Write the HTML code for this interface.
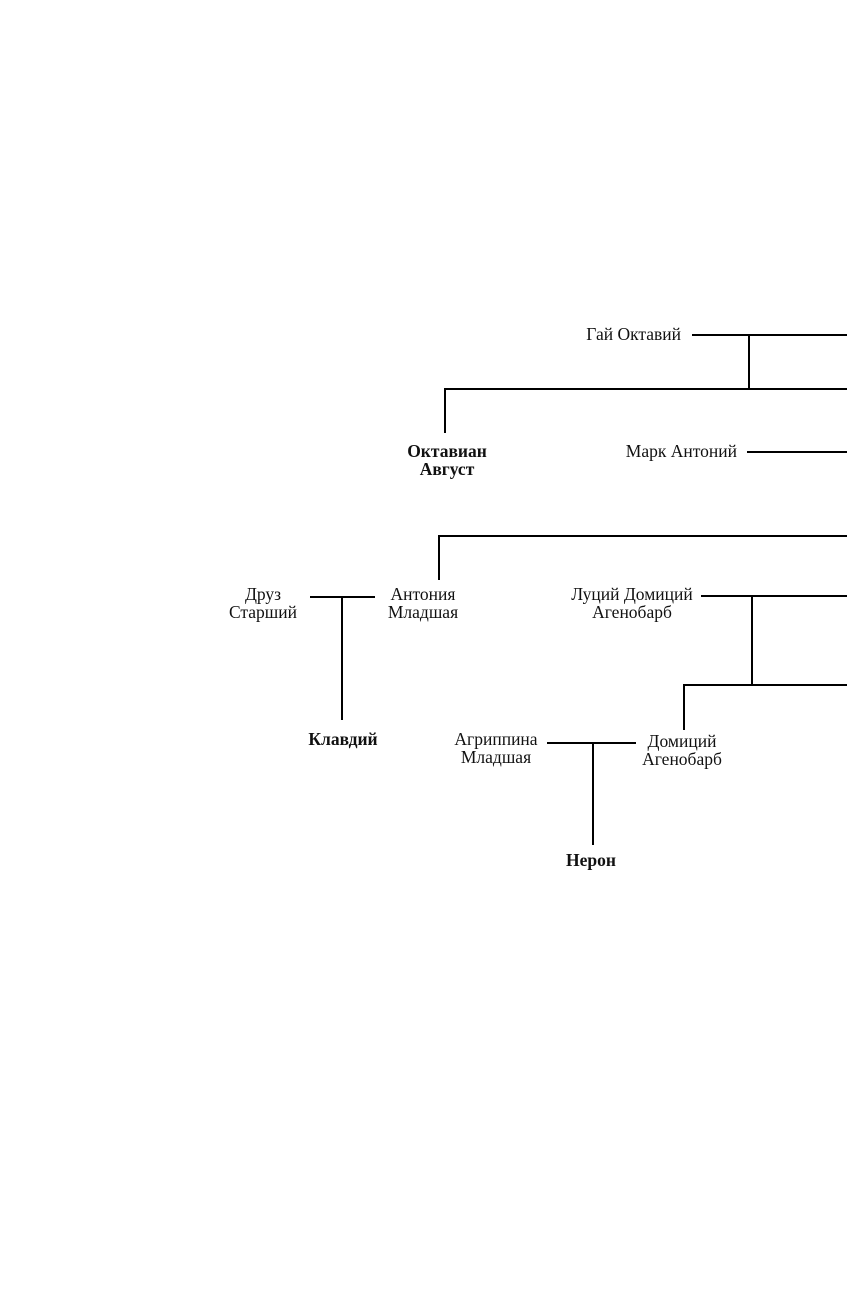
<!DOCTYPE html>
<html><head><meta charset="utf-8"><style>
html,body{margin:0;padding:0;background:#fff;}
svg{display:block;}
text{font-family:"Liberation Serif",serif;font-size:17.5px;fill:#111;}
.b{font-weight:bold;}
</style></head><body>
<svg width="862" height="1299" viewBox="0 0 862 1299">
<g stroke="#000" stroke-width="2" fill="none">
<path d="M692 335H847M749 335V389M444 389H847M445 389V433"/>
<path d="M747 452H847"/>
<path d="M438 536H847M439 536V580"/>
<path d="M310 597H375M342 597V720"/>
<path d="M701 596H847M752 596V685M683 685H847M684 685V730"/>
<path d="M547 743H636M593 743V845"/>
</g>
<text x="681" y="340" text-anchor="end">Гай Октавий</text>
<text class="b" x="447" y="457" text-anchor="middle">Октавиан</text>
<text class="b" x="447" y="475" text-anchor="middle">Август</text>
<text x="737" y="457" text-anchor="end">Марк Антоний</text>
<text x="263" y="600" text-anchor="middle">Друз</text>
<text x="263" y="618" text-anchor="middle">Старший</text>
<text x="423" y="600" text-anchor="middle">Антония</text>
<text x="423" y="618" text-anchor="middle">Младшая</text>
<text x="632" y="600" text-anchor="middle">Луций Домиций</text>
<text x="632" y="618" text-anchor="middle">Агенобарб</text>
<text class="b" x="343" y="745" text-anchor="middle">Клавдий</text>
<text x="496" y="745" text-anchor="middle">Агриппина</text>
<text x="496" y="763" text-anchor="middle">Младшая</text>
<text x="682" y="747" text-anchor="middle">Домиций</text>
<text x="682" y="765" text-anchor="middle">Агенобарб</text>
<text class="b" x="591" y="866" text-anchor="middle">Нерон</text>
</svg>
</body></html>
